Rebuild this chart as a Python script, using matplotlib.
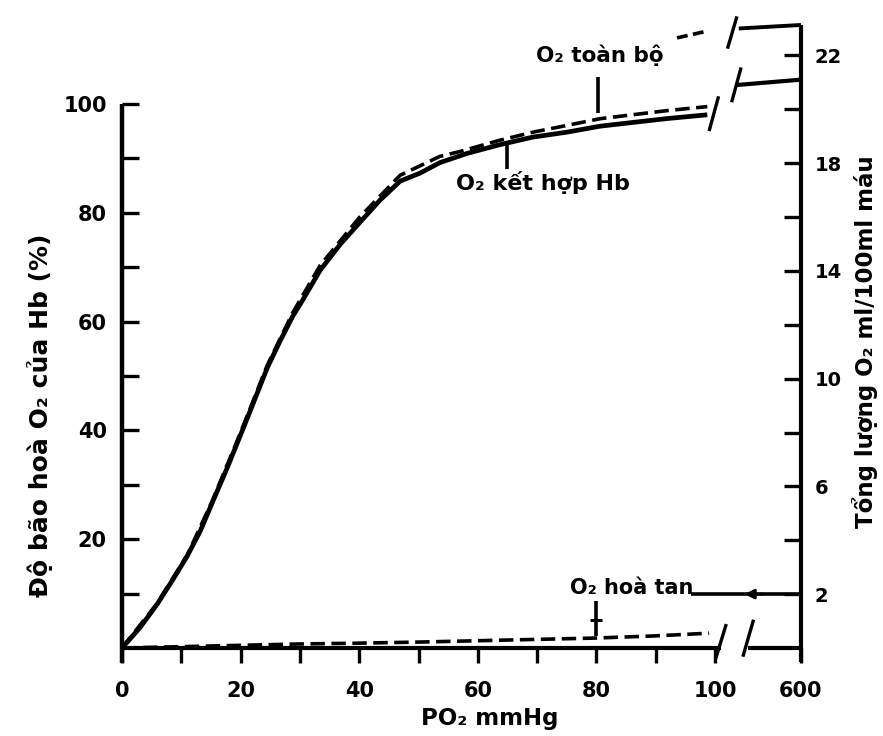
import matplotlib
matplotlib.use('Agg')
import matplotlib.pyplot as plt

plt.rcParams['font.family'] = ['DejaVu Sans']
plt.rcParams['font.weight'] = 'bold'

# duong cong phan ly Hb: PO2 (mmHg) va do bao hoa (%) doc tu hinh
hb_po2 = [0, 3.0, 5.9, 8.6, 11.0, 13.2, 15.3, 17.7, 19.9, 22.1, 24.5, 26.6, 28.8, 30.5,
          33.4, 36.8, 40.1, 43.5, 46.9, 50.3, 53.6, 58.2, 63.7, 69.3, 75.0, 80.6, 86.2, 91.9, 98.7]
hb_sat = [0, 3.7, 8.0, 12.6, 16.9, 21.5, 26.9, 33.0, 38.9, 44.9, 51.5, 56.3, 61.0, 64.0,
          69.4, 74.2, 78.2, 82.3, 85.8, 87.3, 89.2, 90.9, 92.5, 93.9, 94.8, 95.9, 96.6, 97.3, 98.0]

# O2 toan bo (ml/100ml mau)
tot_po2 = [0, 5.9, 11.0, 15.3, 19.9, 24.5, 28.8, 33.4, 40.1, 46.9, 53.6, 57.3, 63.7,
           69.3, 75.0, 80.6, 86.2, 91.9, 98.7]
tot_ml = [0, 1.65, 3.45, 5.5, 7.95, 10.5, 12.45, 14.2, 16.0, 17.55, 18.25, 18.45, 18.85,
          19.15, 19.4, 19.65, 19.8, 19.95, 20.1]

# O2 hoa tan (ml/100ml mau)
dis_po2 = [0, 10, 20, 30, 40, 50, 60, 70, 80, 90, 99]
dis_ml = [0, 0.05, 0.1, 0.15, 0.18, 0.22, 0.27, 0.32, 0.37, 0.45, 0.55]

# gia tri o 600 mmHg (sau doan ngat truc)
hb_600 = [20.9, 21.1]
tot_600 = [23.0, 23.13]
dis_600 = 2.0

x_ticks = [0, 20, 40, 60, 80, 100, 600]
left_ticks = [20, 40, 60, 80, 100]
right_ticks = [2, 6, 10, 14, 18, 22]

X600 = 114.5          # vi tri cua 600 mmHg tren truc hoanh
BRK = 103.6           # diem bat dau sau doan ngat
ML_PER_PCT = 0.202    # 100% bao hoa ~ 20.2 ml O2/100ml mau
YTOP = 114.5

W, H = 883, 736


def fx(x):
    return x / W


def fy(y):
    return 1 - y / H


fig = plt.figure(figsize=(W / 100, H / 100), dpi=100)
ax = fig.add_axes([fx(122), fy(648), (801 - 122) / W, (648 - 25) / H])
ax2 = ax.twinx()
ax.set_xlim(0, X600)
ax.set_ylim(0, YTOP)
ax2.set_ylim(0, YTOP * ML_PER_PCT)
for a in (ax, ax2):
    for s in a.spines.values():
        s.set_visible(False)

k = dict(color='black', clip_on=False, solid_capstyle='butt')

# truc
ax.plot([0, 0], [-2.8, 100], lw=3.2, **k)
ax.plot([X600, X600], [-2.6, YTOP], lw=3.0, **k)
ax.plot([0, 101.0], [0, 0], lw=3.0, **k)
ax.plot([105.6, X600], [0, 0], lw=3.0, **k)


def slash(a, x, y, dx, dy):
    a.plot([x - dx, x + dx], [y - dy, y + dy], lw=2.4, **k)


slash(ax, 101.0, 1.2, 0.9, 3.2)
slash(ax, 105.6, 1.8, 0.9, 3.4)

# duong Hb
ax.plot(hb_po2, hb_sat, lw=3.4, **k)
ax2.plot([BRK, X600], hb_600, lw=3.0, **k)
slash(ax, 99.8, 98.2, 0.8, 3.2)
slash(ax, BRK, 103.5, 0.8, 3.2)

# O2 toan bo
ax2.plot(tot_po2, tot_ml, lw=2.6, dashes=(4, 1.8), color='black', clip_on=False)
ax2.plot([BRK + 0.4, X600], tot_600, lw=2.8, **k)
slash(ax2, 102.9, 22.85, 0.8, 0.6)
ax2.plot([93.6, 98.6], [22.65, 22.9], lw=2.6, dashes=(3, 1.5), color='black', clip_on=False)

# O2 hoa tan
ax2.plot(dis_po2, dis_ml, lw=2.6, dashes=(4, 1.8), color='black', clip_on=False)
ax2.plot([96.0, X600], [dis_600, dis_600], lw=2.6, **k)
ax2.annotate('', xy=(104.5, dis_600), xytext=(108.5, dis_600),
             arrowprops=dict(arrowstyle='-|>', color='black', lw=2.0, mutation_scale=14))

# chu thich
ax2.plot([80.3, 80.3], [19.85, 21.2], lw=2.6, **k)
ax.plot([65.0, 65.0], [93.0, 88.0], lw=2.6, **k)
ax2.plot([80.0, 80.0], [0.45, 1.75], lw=2.6, **k)
ax2.plot([79.0, 81.0], [1.05, 1.05], lw=2.2, **k)

txt = dict(fontweight='bold', ha='center', va='center')
fig.text(fx(600), fy(55), 'O₂ toàn bộ', fontsize=15.5, **txt)
fig.text(fx(543), fy(182), 'O₂ kết hợp Hb', fontsize=16, **txt)
fig.text(fx(632), fy(588), 'O₂ hoà tan', fontsize=15, **txt)

fig.text(fx(40), fy(415), 'Độ bão hoà O₂ của Hb (%)', rotation=90, fontsize=18, **txt)
fig.text(fx(865), fy(342), 'Tổng lượng O₂ ml/100ml máu', rotation=90, fontsize=16.5, **txt)
fig.text(fx(490), fy(718), 'PO₂ mmHg', fontsize=16.5, **txt)

# vach chia
ax.set_xticks([0, 20, 40, 60, 80, 100, X600])
ax.set_xticklabels([str(v) for v in x_ticks])
ax.set_xticks([10, 30, 50, 70, 90], minor=True)
ax.tick_params(axis='x', which='both', direction='out', length=10.5, width=2.4, pad=13,
               labelsize=15)

ax.set_yticks(left_ticks)
ax.set_yticklabels([str(v) for v in left_ticks])
ax.set_yticks([10, 30, 50, 70, 90], minor=True)
ax.tick_params(axis='y', which='both', direction='in', length=12, width=2.4, pad=11,
               labelsize=15)

ax2.set_yticks(right_ticks)
ax2.set_yticklabels([str(v) for v in right_ticks])
ax2.set_yticks([4, 8, 12, 16, 20], minor=True)
ax2.tick_params(axis='y', which='both', direction='in', length=12, width=2.4, pad=10,
                labelsize=14)

for lab in ax.get_xticklabels() + ax.get_yticklabels() + ax2.get_yticklabels():
    lab.set_fontweight('bold')

fig.savefig('out.png', dpi=100)
